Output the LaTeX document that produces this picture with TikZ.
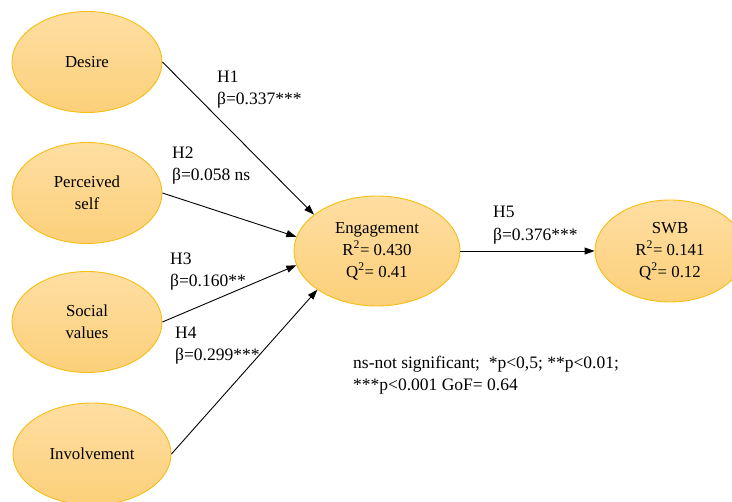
\documentclass[tikz,border=0pt]{standalone}
\usepackage{fontspec}
\setmainfont{Liberation Serif}
\usetikzlibrary{shapes.geometric,arrows.meta}
\definecolor{ftop}{RGB}{254,222,162}
\definecolor{fbot}{RGB}{252,208,122}
\definecolor{bord}{RGB}{245,190,20}
\tikzset{
  latent/.style={ellipse, draw=bord, line width=0.9pt, top color=ftop, bottom color=fbot,
    inner sep=0pt, align=center, font=\fontsize{16.8}{22}\selectfont},
  path arrow/.style={line width=0.9pt, -{Triangle[length=10pt,width=7pt]}},
  lbl/.style={anchor=base west, inner sep=0pt, font=\fontsize{17.5}{22}\selectfont}
}
\begin{document}
\begin{tikzpicture}[x=1pt,y=-1pt]
\useasboundingbox (0,0) rectangle (732,502);
\clip (0,0) rectangle (732,502);
\node[latent, minimum width=150pt, minimum height=101pt] (des) at (87,62) {Desire};
\node[latent, minimum width=150pt, minimum height=101pt] (per) at (87,193) {Perceived\\self};
\node[latent, minimum width=150pt, minimum height=101pt] (soc) at (87,322) {Social\\values};
\node[latent, minimum width=158pt, minimum height=102pt] (inv) at (92,454) {Involvement};
\node[latent, minimum width=166pt, minimum height=110pt] (eng) at (377,251) {Engagement\\R\textsuperscript{2}= 0.430\\Q\textsuperscript{2}= 0.41};
\node[latent, minimum width=150pt, minimum height=102pt] (swb) at (670,251) {SWB\\R\textsuperscript{2}= 0.141\\Q\textsuperscript{2}= 0.12};

\draw[path arrow] (des.east) -- (eng.150);
\draw[path arrow] (per.east) -- (eng.170);
\draw[path arrow] (soc.east) -- (eng.190);
\draw[path arrow] (inv.east) -- (eng.213);
\draw[path arrow] (eng.east) -- (swb.west);

\node[lbl] (h1) at (217,83) {H1};
\node[lbl] (b1) at (217,105) {β=0.337***};
\node[lbl] (h2) at (172,159) {H2};
\node[lbl] (b2) at (172,181) {β=0.058 ns};
\node[lbl] (h3) at (170,265) {H3};
\node[lbl] (b3) at (170,287) {β=0.160**};
\node[lbl] (h4) at (175,339) {H4};
\node[lbl] (b4) at (175,361) {β=0.299***};
\node[lbl] (h5) at (493,218) {H5};
\node[lbl] (b5) at (493,241) {β=0.376***};
\node[lbl] (n1) at (353,369) {ns-not significant;\ \ *p<0,5; **p<0.01;};
\node[lbl] (n2) at (353,391) {***p<0.001 GoF= 0.64};
\end{tikzpicture}
\end{document}
